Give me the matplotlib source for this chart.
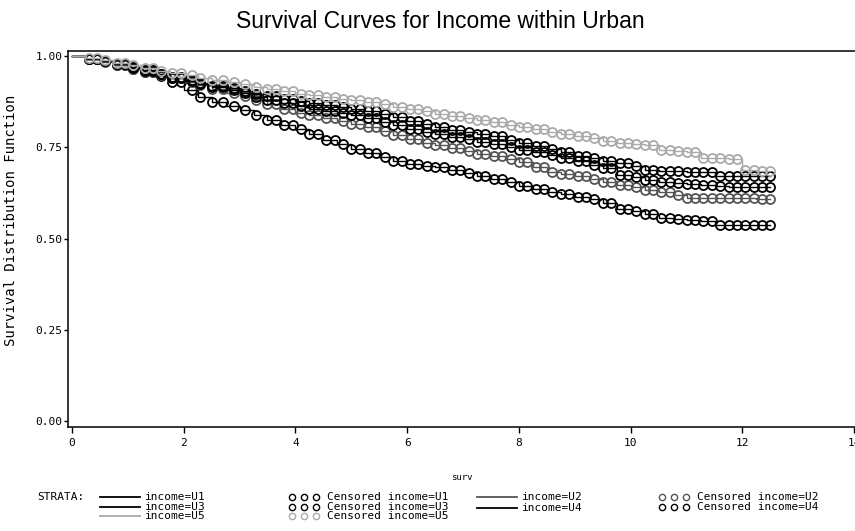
import numpy as np
import matplotlib
matplotlib.use("Agg")
import matplotlib.pyplot as plt
from matplotlib.lines import Line2D

# survival step data (time, S(t))
times = [0, 0.25, 0.5, 0.75, 1, 1.25, 1.5, 1.75, 2, 2.25, 2.5, 2.75, 3, 3.25, 3.5, 3.75,
         4, 4.25, 4.5, 4.75, 5, 5.25, 5.5, 5.75, 6, 6.25, 6.5, 6.75, 7, 7.25, 7.5, 7.75,
         8, 8.25, 8.5, 8.75, 9, 9.25, 9.5, 9.75, 10, 10.25, 10.5, 10.75, 11, 11.25, 11.5,
         11.75, 12, 12.25, 12.5]

surv_u1 = [1.0, .993, .985, .975, .965, .955, .945, .928, .908, .888, .874, .862, .851, .838,
           .826, .812, .80, .786, .771, .758, .745, .733, .722, .712, .705, .70, .695, .688,
           .68, .671, .662, .654, .645, .636, .628, .621, .615, .607, .598, .58, .574, .566,
           .556, .553, .55, .549, .538, .538, .537, .537, .536]
surv_u2 = [1.0, .992, .983, .974, .965, .957, .948, .939, .93, .92, .91, .90, .89, .879, .868,
           .856, .845, .838, .83, .822, .815, .805, .795, .783, .772, .763, .755, .747, .74,
           .732, .725, .717, .71, .695, .682, .676, .67, .662, .655, .647, .64, .634, .628,
           .62, .612, .611, .611, .61, .61, .609, .609]
surv_u3 = [1.0, .993, .985, .977, .968, .959, .95, .941, .932, .923, .915, .906, .898, .889,
           .88, .871, .862, .856, .85, .844, .838, .829, .82, .81, .80, .792, .785, .778, .772,
           .765, .758, .75, .742, .736, .73, .721, .712, .702, .693, .675, .668, .661, .655,
           .651, .648, .646, .643, .642, .642, .641, .641]
surv_u4 = [1.0, .993, .985, .978, .97, .961, .952, .943, .935, .926, .918, .911, .905, .897,
           .89, .883, .877, .871, .866, .861, .856, .849, .842, .832, .822, .813, .805, .798,
           .792, .786, .78, .771, .762, .753, .745, .736, .727, .72, .712, .706, .70, .688,
           .685, .684, .683, .682, .671, .671, .671, .67, .67]
surv_u5 = [1.0, .995, .99, .982, .975, .967, .96, .954, .948, .941, .935, .928, .922, .916,
           .91, .903, .897, .892, .888, .883, .879, .874, .868, .861, .855, .848, .842, .836,
           .83, .824, .818, .811, .805, .799, .793, .786, .78, .774, .768, .763, .758, .755,
           .742, .74, .738, .72, .72, .718, .688, .686, .685]

# censoring times (sparse early, dense later)
cens_t = [0.3, 0.45, 0.6, 0.8, 0.95, 1.1, 1.3, 1.45, 1.6, 1.8, 1.95, 2.15, 2.3, 2.5, 2.7, 2.9,
          3.1, 3.3, 3.5, 3.65, 3.8, 3.95, 4.1, 4.25, 4.4, 4.55, 4.7, 4.85, 5.0, 5.15, 5.3, 5.45,
          5.6, 5.75, 5.9, 6.05, 6.2, 6.35, 6.5, 6.65, 6.8, 6.95, 7.1, 7.25, 7.4, 7.55, 7.7, 7.85,
          8.0, 8.15, 8.3, 8.45, 8.6, 8.75, 8.9, 9.05, 9.2, 9.35, 9.5, 9.65, 9.8, 9.95, 10.1, 10.25,
          10.4, 10.55, 10.7, 10.85, 11.0, 11.15, 11.3, 11.45, 11.6, 11.75, 11.9, 12.05, 12.2,
          12.35, 12.5]

strata = ["U1", "U2", "U3", "U4", "U5"]
colors = ["black", "#555555", "black", "black", "#aaaaaa"]
all_surv = [surv_u1, surv_u2, surv_u3, surv_u4, surv_u5]

mono = "DejaVu Sans Mono"

fig = plt.figure(figsize=(8.55, 5.31), dpi=100)
ax = fig.add_axes([68 / 855, 104 / 531, 803 / 855, 376 / 531])

t = np.array(times)
ct = np.array(cens_t)
for s, c in zip(all_surv, colors):
    s = np.array(s)
    ax.step(t, s, where="post", color=c, lw=1.0)
    idx = np.searchsorted(t, ct, side="right") - 1
    ax.plot(ct, s[idx], ls="none", marker="o", ms=6.5, mfc="none", mec=c, mew=1.3)

ax.set_xlim(-0.07, 14.3)
ax.set_ylim(-0.0164, 1.0137)
ax.set_xticks([0, 2, 4, 6, 8, 10, 12, 14])
ax.set_yticks([0, 0.25, 0.5, 0.75, 1.0])
ax.set_yticklabels(["0.00", "0.25", "0.50", "0.75", "1.00"])
for sp in ax.spines.values():
    sp.set_linewidth(1.1)
ax.spines["right"].set_visible(False)
ax.tick_params(axis="x", length=4, width=1, pad=4)
ax.tick_params(axis="y", length=3, width=1, pad=1)
for lab in ax.get_xticklabels() + ax.get_yticklabels():
    lab.set_family(mono)
    lab.set_fontsize(8)

fig.text(440 / 855, 1 - 22 / 531, "Survival Curves for Income within Urban",
         family="Liberation Sans", fontsize=16.5, ha="center", va="center")
fig.text(11 / 855, 1 - 220 / 531, "Survival Distribution Function", family=mono,
         fontsize=10, rotation=90, ha="center", va="center")
fig.text(462 / 855, 1 - 478 / 531, "surv", family=mono, fontsize=6.5, ha="center", va="center")

# legend drawn by hand
fig.text(37 / 855, 1 - 497 / 531, "STRATA:", family=mono, fontsize=8, va="center")

line_pos = {"U1": (100, 497), "U3": (100, 507), "U5": (100, 516), "U2": (477, 497), "U4": (477, 508)}
cens_pos = {"U1": (292, 497), "U3": (292, 507), "U5": (292, 516), "U2": (662, 497), "U4": (662, 507)}
for name, c in zip(strata, colors):
    x0, y0 = line_pos[name]
    yf = 1 - y0 / 531
    fig.add_artist(Line2D([x0 / 855, (x0 + 40) / 855], [yf, yf], color=c, lw=1.3))
    fig.text((x0 + 45) / 855, yf, "income=" + name, family=mono, fontsize=8, va="center")
    x1, y1 = cens_pos[name]
    yf = 1 - y1 / 531
    fig.add_artist(Line2D([x1 / 855, (x1 + 12) / 855, (x1 + 24) / 855], [yf] * 3, ls="none",
                          marker="o", ms=4.5, mfc="none", mec=c, mew=1.0))
    fig.text((x1 + 35) / 855, yf, "Censored income=" + name, family=mono, fontsize=8, va="center")

fig.savefig("out.png", dpi=100)
